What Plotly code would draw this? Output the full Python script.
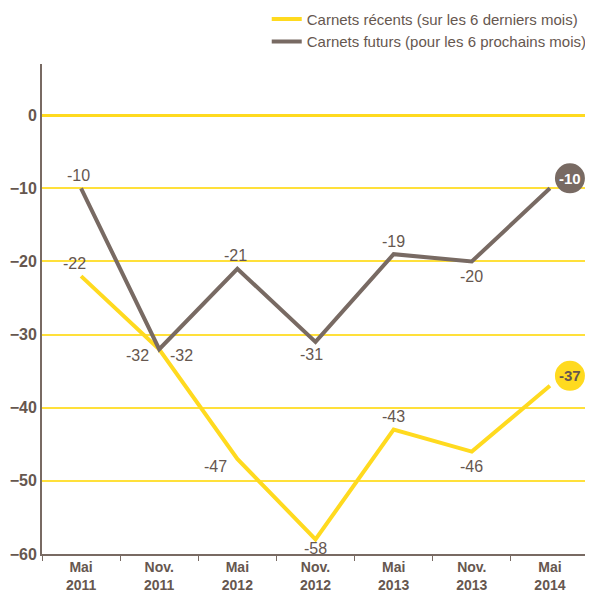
import plotly.graph_objects as go

categories = ["Mai<br>2011", "Nov.<br>2011", "Mai<br>2012", "Nov.<br>2012",
              "Mai<br>2013", "Nov.<br>2013", "Mai<br>2014"]
recents = [-22, -32, -47, -58, -43, -46, -37]
futurs = [-10, -32, -21, -31, -19, -20, -10]
name_recents = "Carnets récents (sur les 6 derniers mois)"
name_futurs = "Carnets futurs (pour les 6 prochains mois)"

YELLOW = "#FFDA1F"
GRID = "#FFE03A"
GRAY = "#786a63"
TXT = "#66574f"
FONT = "Liberation Sans, Arial, sans-serif"

fig = go.Figure()
fig.add_trace(go.Scatter(x=categories, y=recents, mode="lines", name=name_recents,
                         line=dict(color=YELLOW, width=4)))
fig.add_trace(go.Scatter(x=categories, y=futurs, mode="lines", name=name_futurs,
                         line=dict(color=GRAY, width=4)))

# label offsets in pixels (style only)
off_recents = [(-7, 13), (-22, -6), (-22, -8), (0, -9), (0, 13), (0, -15), None]
off_futurs = [(-3, 13), (22, -6), (-2, 13), (-4, -13), (0, 13), (0, -15), None]

for vals, offs in ((recents, off_recents), (futurs, off_futurs)):
    for i, (c, v) in enumerate(zip(categories, vals)):
        if offs[i] is None:
            continue
        dx, dy = offs[i]
        fig.add_annotation(x=c, y=v, text=str(v), showarrow=False,
                           xshift=dx, yshift=dy,
                           font=dict(family=FONT, size=16, color=TXT))

# end-point bubbles
last = len(categories) - 1
for vals, fill, tcol in ((futurs, GRAY, "white"), (recents, YELLOW, TXT)):
    fig.add_shape(type="circle", xref="x", yref="y", xsizemode="pixel", ysizemode="pixel",
                  xanchor=last, yanchor=vals[last], x0=5, x1=35, y0=-5, y1=25,
                  fillcolor=fill, line=dict(width=0), layer="above")
    fig.add_annotation(x=categories[last], y=vals[last], text="<b>%d</b>" % vals[last],
                       showarrow=False, xshift=20, yshift=10,
                       font=dict(family=FONT, size=15, color=tcol))

# the page body adds an 8px offset; the figure is sized to fit the window
fig.update_layout(
    width=585, height=584,
    margin=dict(l=34, r=4, t=56, b=38, autoexpand=False),
    paper_bgcolor="white", plot_bgcolor="white",
    font=dict(family=FONT, size=15, color=TXT),
    showlegend=True,
    legend=dict(x=1.005, xanchor="right", y=1.125, yanchor="top",
                font=dict(family=FONT, size=15, color=TXT),
                bgcolor="rgba(0,0,0,0)", tracegroupgap=0),
    xaxis=dict(type="category", showgrid=False, showline=True, linecolor=GRAY, linewidth=2,
               ticks="outside", tickson="boundaries", ticklen=5, tickcolor=GRAY, tickwidth=1,
               tickfont=dict(family=FONT, size=14, color=TXT, weight="bold"),
               ticklabelstandoff=-1,
               range=[-0.5, 6.5], fixedrange=True, automargin=False),
    yaxis=dict(range=[-60, 7], dtick=10, tick0=0, showgrid=True, gridcolor=GRID, gridwidth=1.5,
               zeroline=True, zerolinecolor=YELLOW, zerolinewidth=3,
               showline=True, linecolor=GRAY, linewidth=2, ticks="", automargin=False,
               tickfont=dict(family=FONT, size=16, color=TXT, weight="bold")),
)

fig.write_html("out.html")
